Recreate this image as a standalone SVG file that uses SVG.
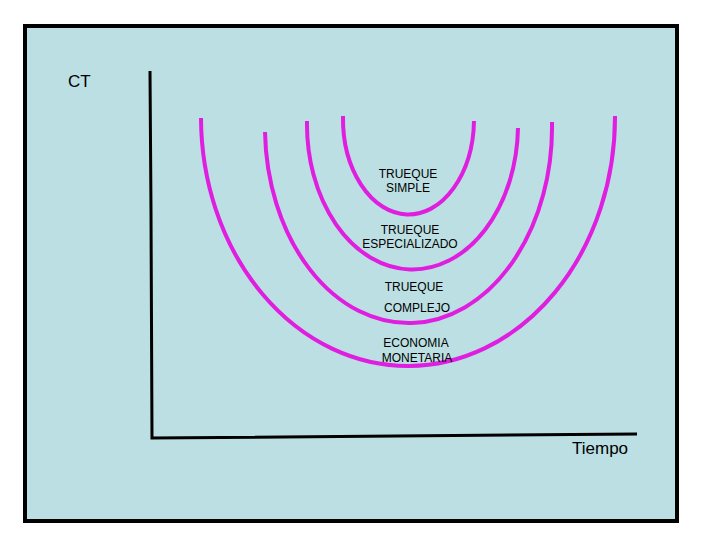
<svg xmlns="http://www.w3.org/2000/svg" width="720" height="540" viewBox="0 0 720 540">
<style>
.axis{stroke:#000;stroke-width:3;fill:none}
.arc{stroke:#E01EE0;stroke-width:4;fill:none}
.lbl{font-family:"Liberation Sans",Arial,sans-serif;font-size:12px;fill:#000;text-anchor:middle}
.big{font-family:"Liberation Sans",Arial,sans-serif;font-size:17px;fill:#000}
</style>
<rect x="0" y="0" width="720" height="540" fill="#fff"/>
<rect x="25" y="26" width="652" height="495" fill="#BBDFE2" stroke="#000" stroke-width="4"/>
<g id="axes">
<path class="axis" d="M150 71 L151 212 L152 438 L637 434"/>
</g>
<g id="curves">
<path id="c1" class="arc" d="M343 116 A65.5 96 0 0 0 474 121"/>
<path id="c2" class="arc" d="M307 121 A105.5 145 0 0 0 518 128"/>
<path id="c3" class="arc" d="M265 132 A143.5 196 0 0 0 552 122"/>
<path id="c4" class="arc" d="M201 118 A207 249 0 0 0 615 116"/>
</g>
<g id="labels">
<text class="big" x="68" y="87">CT</text>
<text class="big" x="572" y="454">Tiempo</text>
<text class="lbl" x="408" y="178">TRUEQUE</text>
<text class="lbl" x="408" y="192">SIMPLE</text>
<text class="lbl" x="410" y="234">TRUEQUE</text>
<text class="lbl" x="410" y="248">ESPECIALIZADO</text>
<text class="lbl" x="414" y="291">TRUEQUE</text>
<text class="lbl" x="417" y="312">COMPLEJO</text>
<text class="lbl" x="416" y="347">ECONOMIA</text>
<text class="lbl" x="417" y="362">MONETARIA</text>
</g>
</svg>
